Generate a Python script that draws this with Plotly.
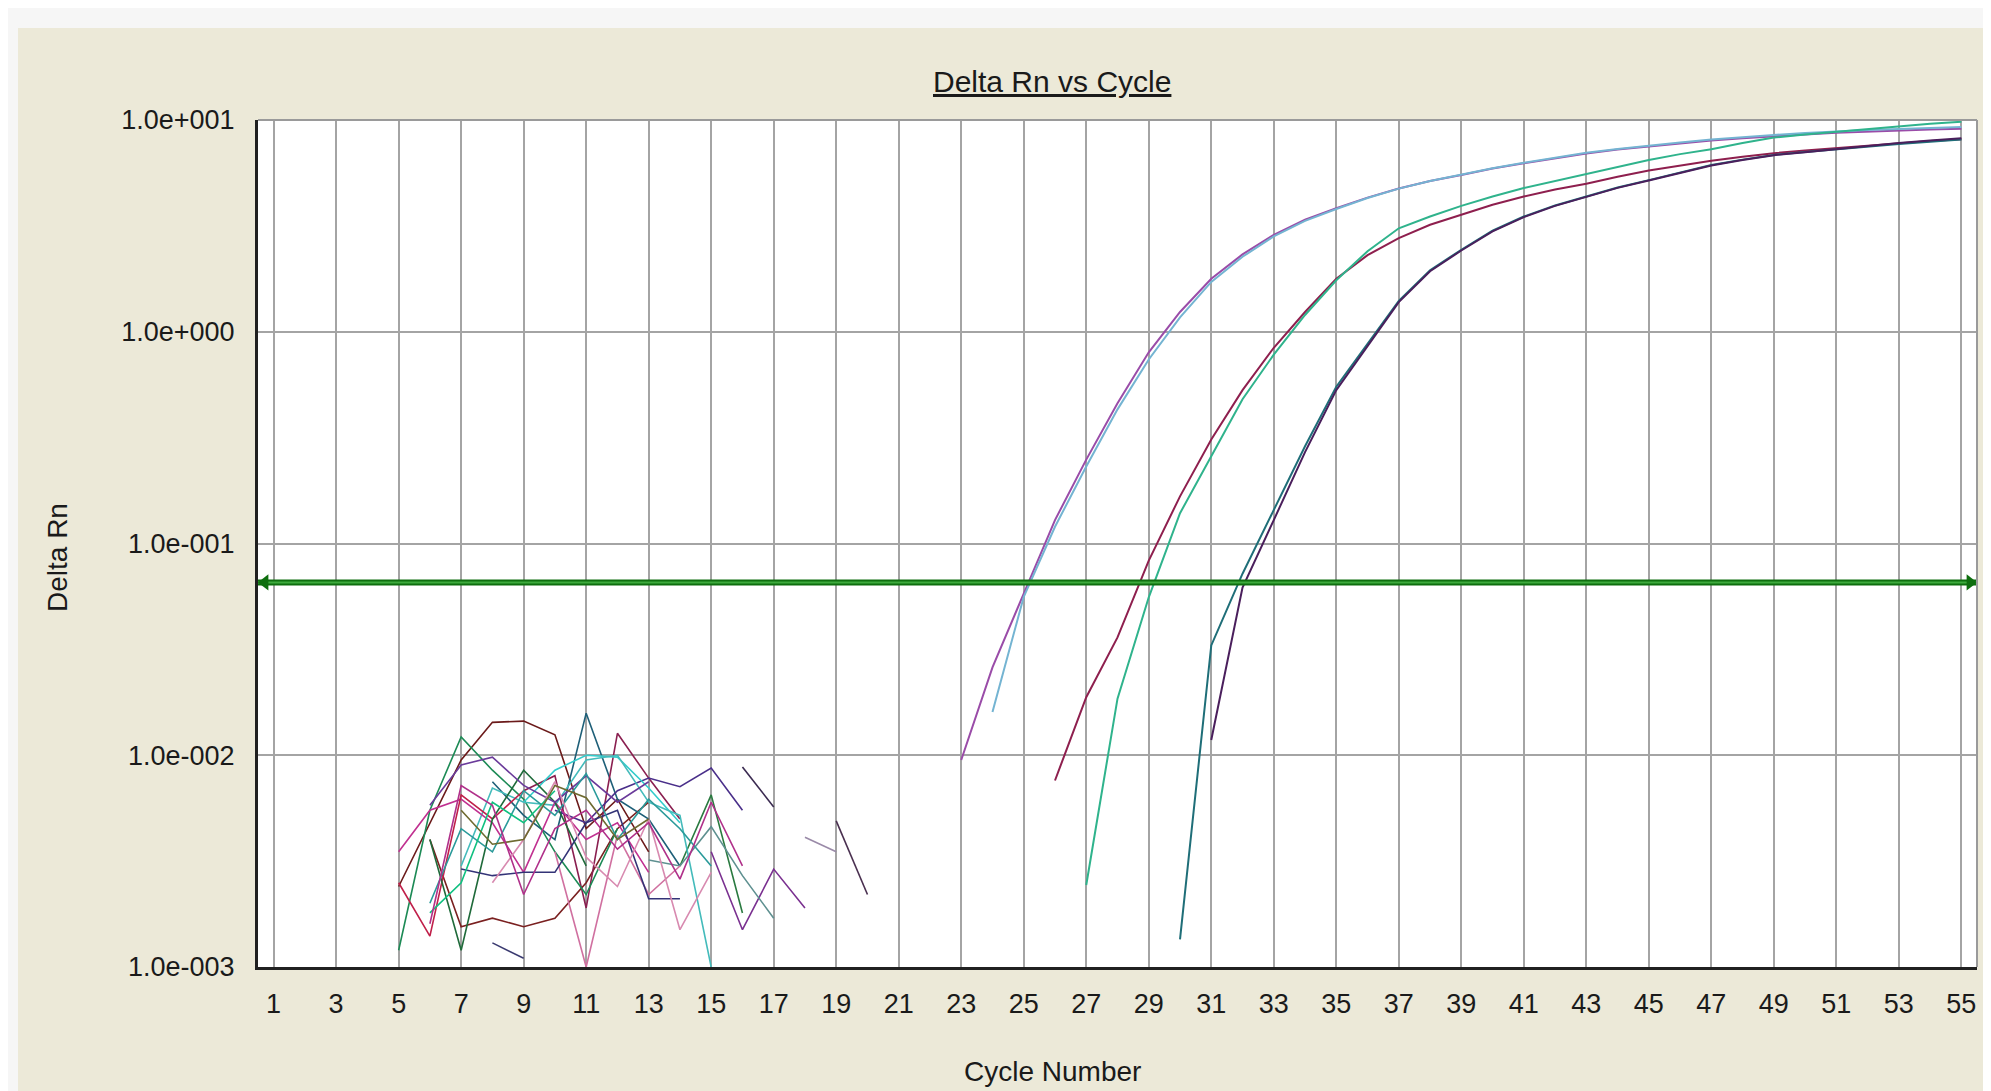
import plotly.graph_objects as go

# ---------------- data ----------------
TITLE = "Delta Rn vs Cycle"
X_TITLE = "Cycle Number"
Y_TITLE = "Delta Rn"
X_TICKS = list(range(1, 56, 2))
Y_TICKS = [0.001, 0.01, 0.1, 1, 10]
Y_TICK_LABELS = ["1.0e-003", "1.0e-002", "1.0e-001", "1.0e+000", "1.0e+001"]
THRESHOLD = 0.0655

# amplification curves: start cycle + Delta Rn values (one per cycle up to 55)
P1A_START = 23
P1A = [0.0095, 0.026, 0.058, 0.129, 0.249, 0.46, 0.80, 1.24, 1.78, 2.32, 2.87, 3.38, 3.83,
       4.3, 4.75, 5.15, 5.5, 5.9, 6.25, 6.6, 6.95, 7.25, 7.5, 7.75, 8.0, 8.2, 8.4, 8.55,
       8.7, 8.82, 8.93, 9.02, 9.1]
P1B_START = 24
P1B = [0.016, 0.056, 0.12, 0.231, 0.43, 0.74, 1.17, 1.72, 2.26, 2.82, 3.34, 3.8, 4.28,
       4.74, 5.15, 5.52, 5.92, 6.28, 6.65, 7.0, 7.3, 7.58, 7.83, 8.08, 8.3, 8.5, 8.67,
       8.83, 8.96, 9.08, 9.18, 9.27]
P2A_START = 26
P2A = [0.0076, 0.0188, 0.036, 0.083, 0.167, 0.31, 0.53, 0.84, 1.24, 1.78, 2.3, 2.77, 3.2,
       3.56, 3.98, 4.35, 4.7, 5.0, 5.4, 5.77, 6.1, 6.42, 6.7, 6.97, 7.17, 7.37, 7.57, 7.77,
       7.95, 8.12]
P2B_START = 27
P2B = [0.00244, 0.0185, 0.0557, 0.139, 0.258, 0.48, 0.78, 1.2, 1.75, 2.4, 3.08, 3.5, 3.93,
       4.35, 4.77, 5.15, 5.56, 6.0, 6.47, 6.9, 7.28, 7.78, 8.26, 8.55, 8.81, 9.1, 9.37,
       9.6, 9.82]
P3A_START = 30
P3A = [0.00135, 0.033, 0.072, 0.144, 0.288, 0.55, 0.88, 1.4, 1.95, 2.44, 3.0, 3.5, 3.95,
       4.35, 4.8, 5.2, 5.65, 6.13, 6.5, 6.84, 7.06, 7.28, 7.5, 7.7, 7.9, 8.1]
P3B_START = 31
P3B = [0.0118, 0.062, 0.129, 0.27, 0.53, 0.85, 1.38, 1.93, 2.42, 2.98, 3.48, 3.93, 4.33,
       4.78, 5.18, 5.63, 6.1, 6.48, 6.82, 7.05, 7.3, 7.55, 7.78, 8.0, 8.2]

AMP_STARTS = [P1A_START, P1B_START, P2A_START, P2B_START, P3A_START, P3B_START]
AMP_VALUES = [P1A, P1B, P2A, P2B, P3A, P3B]
AMP_COLORS = ["#9A4CA8", "#74B4D2", "#8E1F4E", "#2FB38C", "#1F6E78", "#4A1F5C"]

# baseline noise traces (start cycle + values)
NOISE_START = [5, 6, 8, 9, 5, 10, 16, 18, 19, 14, 15, 13, 8, 10, 9, 7, 5, 5, 6, 6, 7, 6,
               8, 6, 7, 6]
NOISE_VALUES = [
    [0.0024, 0.0048, 0.0095, 0.0143, 0.0145, 0.0125, 0.0045, 0.0062, 0.0035],
    [0.0040, 0.00155, 0.0017, 0.00155, 0.0017, 0.0025, 0.0045, 0.0060],
    [0.0075, 0.0052, 0.0040, 0.0158, 0.0062, 0.0050, 0.0030],
    [0.0068, 0.0080, 0.0019, 0.0127, 0.0078, 0.0050],
    [0.0012, 0.0055, 0.0122, 0.0085, 0.0062, 0.0035, 0.0022, 0.0045],
    [0.0055, 0.0048, 0.0068, 0.0078, 0.0071, 0.0087, 0.0055],
    [0.0088, 0.0057],
    [0.0041, 0.0035],
    [0.0049, 0.0022],
    [0.0030, 0.0065, 0.0018],
    [0.0035, 0.0015, 0.0029, 0.0019],
    [0.0032, 0.0030, 0.0046, 0.0027, 0.0017],
    [0.0013, 0.0011],
    [0.0035, 0.0010, 0.0042, 0.0022, 0.0030],
    [0.0060, 0.0085, 0.0100, 0.0098, 0.0070, 0.0048],
    [0.0030, 0.0070, 0.0060, 0.0058, 0.0095, 0.0100, 0.0060, 0.0052, 0.0010],
    [0.0035, 0.0055, 0.0062, 0.0048, 0.0028, 0.0060, 0.0040, 0.0048, 0.0028],
    [0.0025, 0.0014, 0.0065, 0.0050, 0.0068],
    [0.0040, 0.0012, 0.0050, 0.0085, 0.0060, 0.0030],
    [0.0058, 0.0090, 0.0098, 0.0072, 0.0060, 0.0080, 0.0060, 0.0075],
    [0.0029, 0.0027, 0.0028, 0.0028, 0.0048, 0.0055, 0.0021, 0.0021],
    [0.0020, 0.0045, 0.0035, 0.0068, 0.0052, 0.0082, 0.0040, 0.0062, 0.0045, 0.0030],
    [0.0025, 0.0040, 0.0075, 0.0033, 0.0024, 0.0050, 0.0015, 0.0028],
    [0.0018, 0.0025, 0.0060, 0.0048, 0.0068],
    [0.0055, 0.0038, 0.0040, 0.0072, 0.0063, 0.0040, 0.0050],
    [0.0016, 0.0072, 0.0058, 0.0022, 0.0045, 0.0055, 0.0036, 0.0048, 0.0026, 0.0060, 0.0030],
]
NOISE_COLORS = ["#6B1A1A", "#7A2020", "#1E5F78", "#8A1F50", "#1C8A55", "#4A2F8A",
                "#3A2A50", "#9A8AA8", "#4A3050", "#2A7A40", "#7A3090", "#5E9090",
                "#3A3A70", "#D070A0", "#33CCCC", "#44BBBB", "#C03090", "#C0204A",
                "#1F6A3A", "#6A3A9A", "#333377", "#2A9A9A", "#D88AB0", "#10C080",
                "#6E6A30", "#B0308A"]

# ---------------- figure ----------------
OFF = 8                      # page body margin of the html page
W, H = 1991 - OFF, 1091 - OFF
ML, MR, MT, MB = 258 - OFF, 14, 120 - OFF, 124
PW, PH = W - ML - MR, H - MT - MB
FONT = "Liberation Sans, Arial, sans-serif"


def px_x(p):
    """window pixel x -> paper x"""
    return (p - OFF - ML) / PW


def px_y(p):
    """window pixel y -> paper y"""
    return (H - MB - (p - OFF)) / PH


fig = go.Figure()

for start, vals, col in zip(NOISE_START, NOISE_VALUES, NOISE_COLORS):
    fig.add_trace(go.Scatter(x=list(range(start, start + len(vals))), y=vals,
                             mode="lines", line=dict(color=col, width=1.6),
                             hoverinfo="skip", showlegend=False))

for start, vals, col in zip(AMP_STARTS, AMP_VALUES, AMP_COLORS):
    fig.add_trace(go.Scatter(x=list(range(start, start + len(vals))), y=vals,
                             mode="lines", line=dict(color=col, width=2),
                             showlegend=False))

# threshold line with arrow heads
X_MIN, X_MAX = 0.5, 55.5
fig.add_trace(go.Scatter(x=[X_MIN, X_MAX], y=[THRESHOLD, THRESHOLD], mode="lines",
                         line=dict(color="#0E6E0E", width=6), showlegend=False,
                         cliponaxis=False, hoverinfo="skip"))
fig.add_trace(go.Scatter(x=[X_MIN, X_MAX], y=[THRESHOLD, THRESHOLD], mode="lines",
                         line=dict(color="#3DAA3D", width=2), showlegend=False,
                         cliponaxis=False, hoverinfo="skip"))
fig.add_trace(go.Scatter(x=[X_MIN + 0.22, X_MAX - 0.22], y=[THRESHOLD, THRESHOLD],
                         mode="markers",
                         marker=dict(symbol=["triangle-left", "triangle-right"], size=14,
                                     color="#0E6E0E"),
                         showlegend=False, cliponaxis=False, hoverinfo="skip"))

shapes = [
    # light frame strips around the beige panel
    dict(type="rect", xref="paper", yref="paper", x0=px_x(0), x1=px_x(2000), y0=px_y(0),
         y1=px_y(28), fillcolor="#F6F6F6", line=dict(width=0), layer="below"),
    dict(type="rect", xref="paper", yref="paper", x0=px_x(0), x1=px_x(18), y0=px_y(1100),
         y1=px_y(0), fillcolor="#F6F6F6", line=dict(width=0), layer="below"),
    # top and right grey border of plot
    dict(type="line", xref="paper", yref="paper", x0=0, x1=1, y0=1, y1=1,
         line=dict(color="#9A9A9A", width=2)),
    dict(type="line", xref="paper", yref="paper", x0=1, x1=1, y0=0, y1=1,
         line=dict(color="#9A9A9A", width=2)),
]

annotations = [
    dict(text="<u>" + TITLE + "</u>", xref="paper", yref="paper", x=px_x(1052),
         y=px_y(81), xanchor="center", yanchor="middle", showarrow=False,
         font=dict(family=FONT, size=30, color="#1A1A1A")),
    dict(text=Y_TITLE, xref="paper", yref="paper", x=px_x(57), y=px_y(558),
         xanchor="center", yanchor="middle", textangle=-90, showarrow=False,
         font=dict(family=FONT, size=28, color="#1A1A1A")),
    dict(text=X_TITLE, xref="paper", yref="paper", x=px_x(1052), y=px_y(1071),
         xanchor="center", yanchor="middle", showarrow=False,
         font=dict(family=FONT, size=28, color="#1A1A1A")),
]

fig.update_layout(
    width=W, height=H,
    margin=dict(l=ML, r=MR, t=MT, b=MB, pad=0),
    paper_bgcolor="#ECE9D8",
    plot_bgcolor="#FFFFFF",
    shapes=shapes,
    annotations=annotations,
    showlegend=False,
    font=dict(family=FONT, size=27, color="#1A1A1A"),
)
fig.update_xaxes(range=[X_MIN, X_MAX], tickmode="array", tickvals=X_TICKS,
                 showgrid=True, gridcolor="#A4A4A4", gridwidth=1.5,
                 showline=True, linecolor="#202020", linewidth=3,
                 ticks="", zeroline=False, ticklabelstandoff=11,
                 tickfont=dict(family=FONT, size=27, color="#1A1A1A"))
fig.update_yaxes(type="log", range=[-3, 1], tickmode="array", tickvals=Y_TICKS,
                 ticktext=Y_TICK_LABELS, showgrid=True, gridcolor="#A4A4A4",
                 gridwidth=1.5, showline=True, linecolor="#202020", linewidth=3,
                 ticks="", zeroline=False, ticklabelstandoff=15,
                 tickfont=dict(family=FONT, size=27, color="#1A1A1A"))

fig.write_html("out.html",
               post_script="document.body.style.overflow='hidden';")
